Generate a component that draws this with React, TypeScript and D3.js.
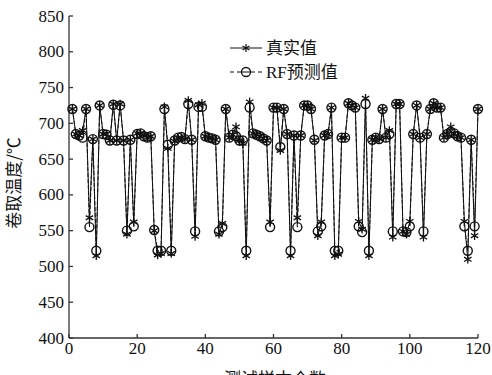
import React from 'react';
import * as d3 from 'd3';

// sample index 1..120
const realVals = [
  720, 685, 683, 690, 720, 568, 678, 515, 725, 685,
  685, 676, 727, 676, 727, 676, 545, 677, 562, 686,
  686, 684, 680, 682, 550, 516, 518, 723, 665, 518,
  675, 680, 680, 678, 732, 677, 542, 726, 728, 682,
  680, 679, 677, 545, 560, 720, 680, 684, 695, 676,
  672, 515, 730, 686, 684, 682, 679, 676, 562, 722,
  722, 662, 720, 685, 515, 683, 568, 683, 725, 725,
  720, 676, 543, 562, 683, 685, 722, 515, 517, 680,
  680, 728, 725, 722, 563, 552, 735, 515, 677, 680,
  678, 720, 680, 690, 541, 727, 727, 549, 545, 563,
  685, 725, 680, 541, 685, 720, 728, 722, 722, 680,
  685, 695, 686, 682, 680, 563, 510, 677, 543, 720,
];
const predVals = [
  720, 685, 683, 680, 720, 555, 678, 522, 725, 685,
  684, 676, 726, 676, 725, 676, 550, 677, 556, 685,
  686, 682, 680, 682, 551, 522, 522, 720, 670, 522,
  676, 680, 681, 678, 727, 677, 549, 723, 723, 682,
  680, 679, 677, 549, 555, 720, 680, 684, 682, 676,
  676, 522, 722, 686, 684, 682, 679, 676, 555, 722,
  722, 667, 720, 685, 522, 683, 555, 683, 725, 725,
  720, 677, 549, 556, 683, 685, 722, 522, 522, 680,
  680, 728, 725, 722, 556, 548, 727, 522, 677, 680,
  678, 720, 680, 685, 549, 727, 727, 549, 548, 556,
  685, 725, 680, 549, 685, 720, 728, 722, 722, 680,
  685, 688, 686, 682, 680, 556, 522, 677, 556, 720,
];
const xTicks = [0, 20, 40, 60, 80, 100, 120];
const yTicks = [400, 450, 500, 550, 600, 650, 700, 750, 800, 850];
const seriesNames = ['真实值', 'RF预测值'];

const W = 492;
const H = 375;
const font = '"Liberation Serif", "Times New Roman", serif';
const cjk = '"Noto Sans CJK SC", sans-serif';

function starPath(cx: number, cy: number, r: number) {
  let p = '';
  [90, 30, 150].forEach(a => {
    const t = (a * Math.PI) / 180;
    const dx = Math.cos(t) * r, dy = Math.sin(t) * r;
    p += `M${cx - dx},${cy - dy}L${cx + dx},${cy + dy}`;
  });
  return p;
}

export default function App() {
  const x = d3.scaleLinear().domain([0, 120]).range([69, 478]);
  const y = d3.scaleLinear().domain([400, 850]).range([338, 16]);

  const idx = realVals.map((_, i) => i + 1);
  const line = d3.line<number>().x((_, i) => x(idx[i])).y(d => y(d));

  const lx = 230;
  const ly1 = 48;
  const ly2 = 72;

  return (
    <div style={{ position: 'absolute', left: 0, top: 0 }}>
      <svg width={W} height={H} style={{ display: 'block', background: '#fff' }}>
        {/* axes */}
        <g stroke="#333" strokeWidth={1.3} fill="none">
          <line x1={x(0)} x2={x(0)} y1={y(850)} y2={y(400)} />
          <line x1={x(0)} x2={x(120)} y1={y(400)} y2={y(400)} />
          {yTicks.map(t => (
            <line key={'yt' + t} x1={x(0)} x2={x(0) + 4} y1={y(t)} y2={y(t)} />
          ))}
          {xTicks.map(t => (
            <line key={'xt' + t} x1={x(t)} x2={x(t)} y1={y(400)} y2={y(400) - 4} />
          ))}
        </g>
        <g fontFamily={font} fontSize={17} fill="#111">
          {yTicks.map(t => (
            <text key={'yl' + t} x={x(0) - 5} y={y(t) + 5.5} textAnchor="end">{t}</text>
          ))}
          {xTicks.map(t => (
            <text key={'xl' + t} x={x(t)} y={354} textAnchor="middle">{t}</text>
          ))}
        </g>
        <text
          transform={`translate(20,${(y(400) + y(850)) / 2 + 6}) rotate(-90)`}
          textAnchor="middle" fontFamily={cjk} fontSize={17} fill="#111"
        >卷取温度/℃</text>
        <text x={275} y={385} textAnchor="middle" fontFamily={cjk} fontSize={17} fill="#111">
          测试样本个数
        </text>

        {/* series */}
        <path d={line(realVals) || ''} fill="none" stroke="#111" strokeWidth={1} />
        <path d={line(predVals) || ''} fill="none" stroke="#111" strokeWidth={1} strokeDasharray="4,2" />
        {realVals.map((v, i) => (
          <path key={'s' + i} d={starPath(x(idx[i]), y(v), 4.3)} stroke="#111" strokeWidth={1.3} />
        ))}
        {predVals.map((v, i) => (
          <circle key={'c' + i} cx={x(idx[i])} cy={y(v)} r={4.5} fill="none" stroke="#111" strokeWidth={1.4} />
        ))}

        {/* legend */}
        <line x1={lx} x2={lx + 32} y1={ly1} y2={ly1} stroke="#111" strokeWidth={1} />
        <path d={starPath(lx + 16, ly1, 4)} stroke="#111" strokeWidth={1.2} />
        <text x={lx + 36} y={ly1 + 6} fontFamily={cjk} fontSize={17} fill="#111">{seriesNames[0]}</text>
        <line x1={lx} x2={lx + 32} y1={ly2} y2={ly2} stroke="#111" strokeWidth={1} strokeDasharray="4,3" />
        <circle cx={lx + 16} cy={ly2} r={4.5} fill="#fff" stroke="#111" strokeWidth={1.3} />
        <line x1={lx + 11} x2={lx + 21} y1={ly2} y2={ly2} stroke="#111" strokeWidth={1} />
        <text x={lx + 36} y={ly2 + 6} fontSize={17} fill="#111">
          <tspan fontFamily={font}>RF</tspan>
          <tspan fontFamily={cjk}>预测值</tspan>
        </text>
      </svg>
    </div>
  );
}
